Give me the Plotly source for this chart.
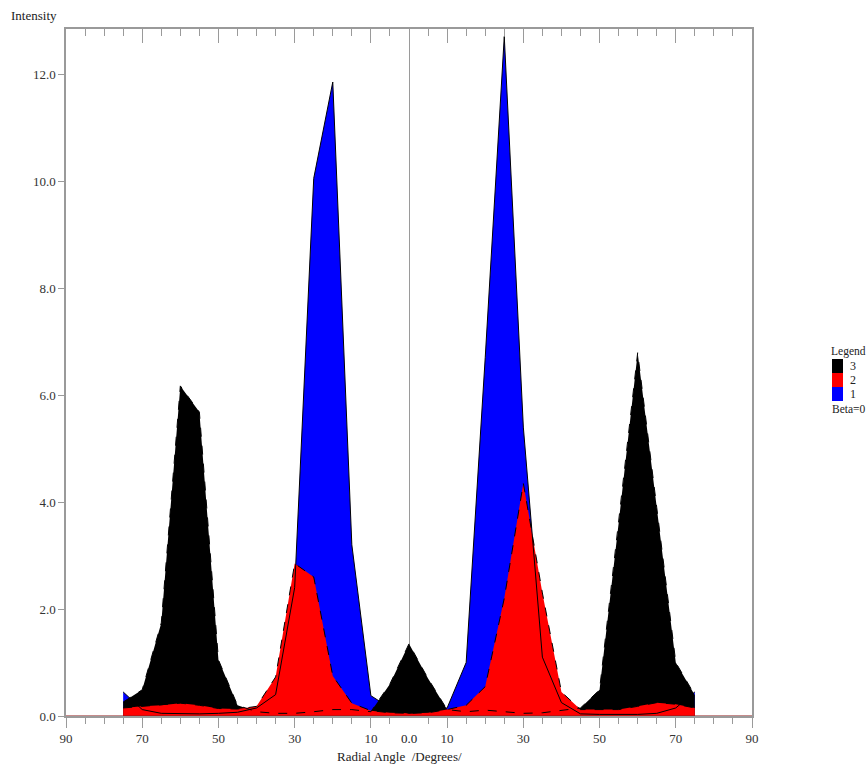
import plotly.graph_objects as go

# ---------------- data ----------------
angles = [-75, -70, -65, -60, -55, -50, -45, -40, -35, -30, -25, -20, -15, -10, -5, 0,
          5, 10, 15, 20, 25, 30, 35, 40, 45, 50, 55, 60, 65, 70, 75]

series3 = [0.26, 0.49, 1.74, 6.17, 5.68, 1.05, 0.20, 0.08, 0.05, 0.05, 0.08, 0.12, 0.12, 0.08, 0.60, 1.35,
           0.70, 0.12, 0.08, 0.11, 0.08, 0.05, 0.06, 0.10, 0.15, 0.49, 3.60, 6.79, 3.90, 1.00, 0.39]

series2 = [0.15, 0.18, 0.20, 0.24, 0.20, 0.14, 0.13, 0.18, 0.73, 2.85, 2.60, 0.75, 0.24, 0.10, 0.06, 0.05,
           0.06, 0.12, 0.20, 0.55, 2.20, 4.35, 2.30, 0.45, 0.12, 0.12, 0.12, 0.18, 0.25, 0.22, 0.15]

series1 = [0.45, 0.12, 0.05, 0.04, 0.04, 0.05, 0.07, 0.15, 0.40, 2.40, 10.05, 11.85, 3.20, 0.38, 0.15, 0.05,
           0.08, 0.15, 1.00, 6.70, 12.70, 5.40, 1.10, 0.25, 0.04, 0.03, 0.03, 0.03, 0.05, 0.15, 0.45]

baseline_x = [-90, 90]
baseline_y = [0, 0]

x_tickvals = [-90, -70, -50, -30, -10, 10, 30, 50, 70, 90]
x_ticktext = ["90", "70", "50", "30", "10", "10", "30", "50", "70", "90"]
x_minorvals = [v for v in range(-85, 90, 5) if v not in x_tickvals and v != 0]
y_tickvals = [0, 2, 4, 6, 8, 10, 12]
y_ticktext = ["0.0", "2.0", "4.0", "6.0", "8.0", "10.0", "12.0"]

legend_labels = ["3", "2", "1"]
legend_colors = ["#000000", "#ff0000", "#0000ff"]

# ---------------- layout helpers ----------------
W, H = 867, 765
L, R, T, B = 66, 752, 29, 716   # plot area in page pixels
FONT = "Liberation Serif, Times New Roman, serif"


def px_x(px):
    return (px - L) / (R - L)


def px_y(py):
    return (B - py) / (B - T)


fig = go.Figure()

# fills (drawn first so all outlines lie on top)
fig.add_trace(go.Scatter(x=angles, y=series1, mode="none", fill="tozeroy",
                         fillcolor="#0000ff", showlegend=False, hoverinfo="skip"))
fig.add_trace(go.Scatter(x=angles, y=series3, mode="none", fill="tozeroy",
                         fillcolor="#000000", showlegend=False, hoverinfo="skip"))
fig.add_trace(go.Scatter(x=angles, y=series2, mode="none", fill="tozeroy",
                         fillcolor="#ff0000", showlegend=False, hoverinfo="skip"))

# baseline
fig.add_trace(go.Scatter(x=baseline_x, y=baseline_y, mode="lines",
                         line=dict(color="#8b1a1a", width=1.2), showlegend=False, hoverinfo="skip"))

# outlines
fig.add_trace(go.Scatter(x=angles, y=series3, mode="lines",
                         line=dict(color="#000000", width=1, dash="dash"), showlegend=False))
fig.add_trace(go.Scatter(x=angles, y=series2, mode="lines",
                         line=dict(color="#000000", width=1, dash="dash"), showlegend=False))
fig.add_trace(go.Scatter(x=angles, y=series1, mode="lines",
                         line=dict(color="#000000", width=1), showlegend=False))

axis_gray = "#9a9a9a"

fig.update_layout(
    width=W, height=H,
    margin=dict(l=L, r=W - R, t=T, b=H - B),
    paper_bgcolor="white", plot_bgcolor="white",
    showlegend=False,
    font=dict(family=FONT, size=13, color="#333333"),
    xaxis=dict(
        range=[-90, 90], showgrid=False,
        zeroline=True, zerolinecolor=axis_gray, zerolinewidth=1,
        showline=True, linecolor=axis_gray, linewidth=1.5, mirror=True,
        tickmode="array", tickvals=x_tickvals, ticktext=x_ticktext,
        ticks="outside", ticklen=10, tickcolor=axis_gray, tickwidth=1,
        minor=dict(tickmode="array", tickvals=x_minorvals, ticks="outside",
                   ticklen=6, tickcolor=axis_gray, tickwidth=1),
        tickfont=dict(family=FONT, size=13, color="#333333"),
    ),
    xaxis2=dict(
        range=[-90, 90], overlaying="x", side="top", anchor="y",
        showgrid=False, zeroline=False, showline=False, showticklabels=False,
        tickmode="array", tickvals=x_tickvals,
        ticks="inside", ticklen=14, tickcolor=axis_gray, tickwidth=1,
        minor=dict(tickmode="array", tickvals=x_minorvals, ticks="inside",
                   ticklen=7, tickcolor=axis_gray, tickwidth=1),
    ),
    yaxis=dict(
        range=[0, (B - T) / 53.5], showgrid=False, zeroline=False,
        showline=True, linecolor=axis_gray, linewidth=1.5, mirror=True,
        tickmode="array", tickvals=y_tickvals, ticktext=y_ticktext,
        ticks="outside", ticklen=6, tickcolor=axis_gray, tickwidth=1,
        tickfont=dict(family=FONT, size=13, color="#333333"),
    ),
)

# invisible trace to make sure the top axis is drawn
fig.add_trace(go.Scatter(x=[None], y=[None], xaxis="x2", yaxis="y", showlegend=False,
                         hoverinfo="skip"))

annotations = [
    dict(text="Intensity", x=px_x(9), y=px_y(16), xanchor="left", yanchor="middle", size=13),
    dict(text="Radial Angle\u00a0 /Degrees/", x=px_x(399), y=px_y(756), xanchor="center",
         yanchor="middle", size=13),
    dict(text="0.0", x=px_x(409), y=px_y(738), xanchor="center", yanchor="middle", size=13),
    dict(text="Legend", x=px_x(829), y=px_y(352), xanchor="left", yanchor="middle", size=11.5),
    dict(text="Beta=0", x=px_x(830), y=px_y(409), xanchor="left", yanchor="middle", size=11.5),
]
shapes = []
box_top = 359
box_h = 14
for i, (lab, col) in enumerate(zip(legend_labels, legend_colors)):
    y0 = box_top + i * box_h
    shapes.append(dict(type="rect", xref="paper", yref="paper",
                       x0=px_x(832), x1=px_x(843), y0=px_y(y0 + box_h), y1=px_y(y0),
                       fillcolor=col, line=dict(width=0)))
    annotations.append(dict(text=lab, x=px_x(853), y=px_y(y0 + 7), xanchor="center",
                            yanchor="middle", size=12))

for a in annotations:
    sz = a.pop("size")
    a.update(xref="paper", yref="paper", showarrow=False,
             font=dict(family=FONT, size=sz, color="#222222"))

fig.update_layout(annotations=annotations, shapes=shapes)

fig.write_html(
    "out.html",
    config={"displayModeBar": False},
    post_script="document.body.style.margin='0px';document.body.style.overflow='hidden';",
)
